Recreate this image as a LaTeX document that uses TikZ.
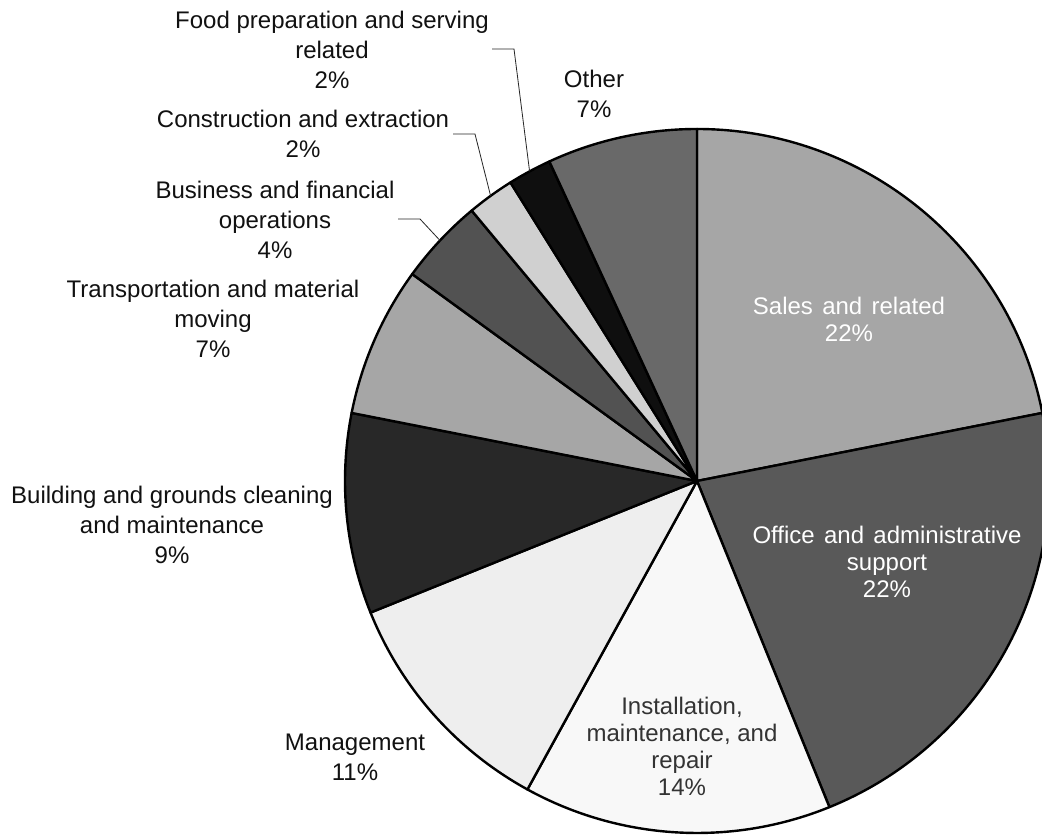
\documentclass[tikz,border=0pt]{standalone}
\usepackage{fontspec}
\setmainfont{Liberation Sans}
\usetikzlibrary{calc}
\definecolor{cSales}{HTML}{A6A6A6}
\definecolor{cOffice}{HTML}{595959}
\definecolor{cInstall}{HTML}{F8F8F8}
\definecolor{cMgmt}{HTML}{EEEEEE}
\definecolor{cBuild}{HTML}{282828}
\definecolor{cTrans}{HTML}{A6A6A6}
\definecolor{cBus}{HTML}{525252}
\definecolor{cCons}{HTML}{D0D0D0}
\definecolor{cFood}{HTML}{0F0F0F}
\definecolor{cOther}{HTML}{696969}
\definecolor{txtdark}{HTML}{111111}
\newcommand\myslice[3]{\filldraw[slice, fill=#3] (C) -- ++(#1:352) arc[start angle=#1, end angle=#2, radius=352] -- cycle;}
\newcommand\mywidespace{\spaceskip=7pt plus 1pt\relax}
\begin{document}
\begin{tikzpicture}[x=0.75pt,y=0.75pt,
  slice/.style={draw=black, line width=1.8pt, line join=round},
  outlabel/.style={inner sep=0pt, align=center, text=txtdark, font=\fontsize{18}{22.5}\selectfont},
  inlabel/.style={inner sep=0pt, align=center, font=\fontsize{18}{20.3}\selectfont},
  leader/.style={draw=black!85, line width=0.6pt}]
\useasboundingbox (0,0) rectangle (1042,835);
\fill[white] (0,0) rectangle (1042,835);
\begin{scope}
\clip (0,0) rectangle (1042,835);
\coordinate (C) at (697,354);
\myslice{90}{11.15}{cSales}
\myslice{11.15}{-67.9}{cOffice}
\myslice{-67.9}{-118.8}{cInstall}
\myslice{-118.8}{-158.05}{cMgmt}
\myslice{-158.05}{-191.15}{cBuild}
\myslice{-191.15}{-216}{cTrans}
\myslice{-216}{-230.2}{cBus}
\myslice{-230.2}{-238}{cCons}
\myslice{-238}{-245.2}{cFood}
\myslice{-245.2}{-270}{cOther}
\end{scope}
% inside labels
\node[inlabel, text=white] (sales) at (849,516) {\mywidespace Sales and related\\22\%};
\node[inlabel, text=white] (office) at (887,273.5) {\mywidespace Office and administrative\\support\\22\%};
\node[inlabel, text=black!80] (install) at (682,89) {\mywidespace Installation,\\maintenance, and\\repair\\14\%};
% outside labels
\node[outlabel] (mgmt) at (355,78) {Management\\11\%};
\node[outlabel] (build) at (172,310) {Building and grounds cleaning\\and maintenance\\9\%};
\node[outlabel] (trans) at (213,516) {Transportation and material\\moving\\7\%};
\node[outlabel] (bus) at (275,615) {Business and financial\\operations\\4\%};
\node[outlabel] (cons) at (303,701) {Construction and extraction\\2\%};
\node[outlabel] (food) at (332,785.5) {Food preparation and serving\\related\\2\%};
\node[outlabel] (other) at (594,741.5) {Other\\7\%};
% leader lines
\coordinate (foodA) at (492,786);
\coordinate (foodB) at (514,786);
\coordinate (foodP) at ($(C)+(118.4:352)$);
\coordinate (consA) at (453,701);
\coordinate (consB) at (475,701);
\coordinate (consP) at ($(C)+(125.9:352)$);
\coordinate (busA) at (398,616);
\coordinate (busB) at (420,616);
\coordinate (busP) at ($(C)+(136.9:352)$);
\draw[leader] (foodA) -- (foodB) -- (foodP);
\draw[leader] (consA) -- (consB) -- (consP);
\draw[leader] (busA) -- (busB) -- (busP);
\end{tikzpicture}
\end{document}
